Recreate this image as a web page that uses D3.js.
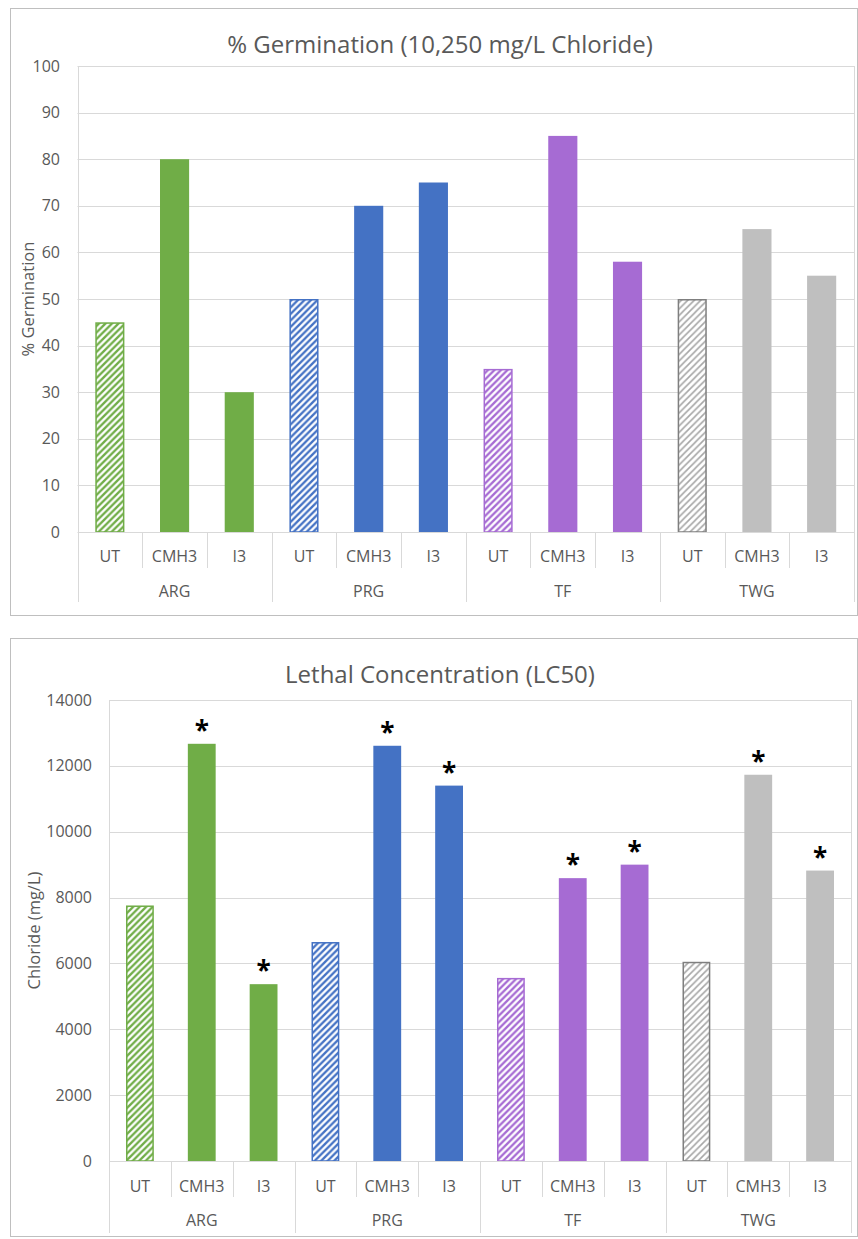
<!DOCTYPE html>
<html>
<head>
<meta charset="utf-8">
<script src="https://cdn.jsdelivr.net/npm/d3@7"></script>
<style>
  html, body { margin: 0; padding: 0; background: #fff; }
  svg { display: block; }
  text { font-family: "Open Sans", "Noto Sans", sans-serif; }
</style>
</head>
<body>
<svg id="chart" width="858" height="1239"></svg>
<script>
// ---------- data ----------
const groups = ["ARG", "PRG", "TF", "TWG"];
const treatments = ["UT", "CMH3", "I3"];
const groupColors = ["#70AD47", "#4472C4", "#A66BD3", "#BFBFBF"];

const germinationValues = [45, 80, 30, 50, 70, 75, 35, 85, 58, 50, 65, 55];
const germinationTicks = [0, 10, 20, 30, 40, 50, 60, 70, 80, 90, 100];

const lc50Values = [7760, 12670, 5370, 6650, 12610, 11400, 5560, 8590, 9000, 6050, 11730, 8820];
const lc50Significant = [false, true, true, false, true, true, false, true, true, false, true, true];
const lc50Ticks = [0, 2000, 4000, 6000, 8000, 10000, 12000, 14000];

// ---------- drawing ----------
const svg = d3.select("#chart");
const textColor = "#595959";
const gridColor = "#D9D9D9";

const defs = svg.append("defs");
groupColors.forEach((c, i) => {
  const isGray = i === 3;
  const s = 6.5;
  const p = defs.append("pattern")
    .attr("id", "hatch" + i)
    .attr("patternUnits", "userSpaceOnUse")
    .attr("width", s).attr("height", s);
  p.append("rect").attr("width", s).attr("height", s).attr("fill", "#fff");
  p.append("path")
    .attr("d", `M-1.5,1.5 L1.5,-1.5 M0,${s} L${s},0 M${s - 1.5},${s + 1.5} L${s + 1.5},${s - 1.5}`)
    .attr("stroke", isGray ? "#A6A6A6" : c)
    .attr("stroke-width", isGray ? 1.6 : 2.3);
});

function drawChart(cfg) {
  const g = svg.append("g");
  // outer frame
  g.append("rect")
    .attr("x", cfg.frame[0] + 0.5).attr("y", cfg.frame[1] + 0.5)
    .attr("width", cfg.frame[2] - cfg.frame[0]).attr("height", cfg.frame[3] - cfg.frame[1])
    .attr("fill", "#fff").attr("stroke", "#BFBFBF").attr("stroke-width", 1);

  // title
  g.append("text")
    .attr("x", cfg.titleX).attr("y", cfg.titleY)
    .attr("text-anchor", "middle").attr("dominant-baseline", "central")
    .attr("font-size", cfg.titleSize).attr("fill", textColor)
    .text(cfg.title);

  const n = groups.length * treatments.length;
  const idx = d3.range(n);
  const x = d3.scaleBand().domain(idx).range([cfg.left, cfg.right])
    .paddingInner(0.55).paddingOuter(0.275);
  const edge = d3.scaleLinear().domain([0, n]).range([cfg.left, cfg.right]);
  const y = d3.scaleLinear().domain([0, cfg.max]).range([cfg.bottom, cfg.top]);

  // gridlines
  g.append("g").selectAll("line").data(cfg.ticks.filter(t => t > 0)).join("line")
    .attr("x1", cfg.left).attr("x2", cfg.right)
    .attr("y1", d => Math.round(y(d)) + 0.5).attr("y2", d => Math.round(y(d)) + 0.5)
    .attr("stroke", gridColor).attr("stroke-width", 1);

  // plot-area right border
  g.append("line")
    .attr("x1", Math.round(cfg.right) + 0.5).attr("x2", Math.round(cfg.right) + 0.5)
    .attr("y1", cfg.top).attr("y2", cfg.bottom)
    .attr("stroke", gridColor);
  // left border of plot area (and continuing as axis group line)
  g.append("line")
    .attr("x1", Math.round(cfg.left) + 0.5).attr("x2", Math.round(cfg.left) + 0.5)
    .attr("y1", cfg.top).attr("y2", cfg.groupLineEnd)
    .attr("stroke", gridColor);

  // y axis labels
  const yAxis = d3.axisLeft(y).tickValues(cfg.ticks).tickSize(0).tickPadding(0)
    .tickFormat(d3.format("d"));
  const ya = g.append("g").attr("transform", `translate(${cfg.tickRight},0)`).call(yAxis);
  ya.select(".domain").remove();
  ya.selectAll("text").attr("font-size", 16).attr("fill", textColor)
    .attr("font-family", "'Open Sans', sans-serif");

  // y axis title
  g.append("text")
    .attr("transform", `translate(${cfg.yTitleX},${(cfg.top + cfg.bottom) / 2}) rotate(-90)`)
    .attr("text-anchor", "middle").attr("dominant-baseline", "central")
    .attr("font-size", 16.5).attr("fill", textColor)
    .text(cfg.yTitle);

  // bars
  const bars = idx.map(i => ({
    i, v: cfg.values[i],
    group: Math.floor(i / treatments.length),
    treat: i % treatments.length
  }));
  g.append("g").selectAll("rect").data(bars).join("rect")
    .attr("x", d => d.treat === 0 ? x(d.i) + 0.75 : x(d.i))
    .attr("width", d => d.treat === 0 ? x.bandwidth() - 1.5 : x.bandwidth())
    .attr("y", d => d.treat === 0 ? y(d.v) + 0.75 : y(d.v))
    .attr("height", d => d.treat === 0 ? y(0) - y(d.v) - 0.75 : y(0) - y(d.v))
    .attr("fill", d => d.treat === 0 ? `url(#hatch${d.group})` : groupColors[d.group])
    .attr("stroke", d => d.treat === 0 ? (d.group === 3 ? "#7F7F7F" : groupColors[d.group]) : "none")
    .attr("stroke-width", 1.5);

  // significance asterisks
  if (cfg.signif) {
    g.append("g").selectAll("text").data(bars.filter(d => cfg.signif[d.i])).join("text")
      .attr("x", d => x(d.i) + x.bandwidth() / 2)
      .attr("y", d => y(d.v) - 4)
      .attr("text-anchor", "middle")
      .attr("font-family", "'Liberation Sans', Arial, sans-serif")
      .attr("font-weight", "bold").attr("font-size", 26).attr("fill", "#000")
      .text("*");
  }

  // baseline
  g.append("line")
    .attr("x1", cfg.left).attr("x2", cfg.right)
    .attr("y1", Math.round(cfg.bottom) + 0.5).attr("y2", Math.round(cfg.bottom) + 0.5)
    .attr("stroke", gridColor);

  // category separators
  const seps = d3.range(1, n + 1);
  g.append("g").selectAll("line").data(seps).join("line")
    .attr("x1", d => Math.round(edge(d)) + 0.5).attr("x2", d => Math.round(edge(d)) + 0.5)
    .attr("y1", cfg.bottom)
    .attr("y2", d => d % treatments.length === 0 ? cfg.groupLineEnd : cfg.subLineEnd)
    .attr("stroke", gridColor);

  // treatment labels
  g.append("g").selectAll("text").data(bars).join("text")
    .attr("x", d => x(d.i) + x.bandwidth() / 2)
    .attr("y", cfg.subLabelY)
    .attr("text-anchor", "middle").attr("dominant-baseline", "central")
    .attr("font-size", 16).attr("fill", textColor)
    .text(d => treatments[d.treat]);

  // group labels
  g.append("g").selectAll("text").data(groups).join("text")
    .attr("x", (d, i) => (edge(i * 3) + edge(i * 3 + 3)) / 2)
    .attr("y", cfg.groupLabelY)
    .attr("text-anchor", "middle").attr("dominant-baseline", "central")
    .attr("font-size", 16).attr("fill", textColor)
    .text(d => d);
}

drawChart({
  frame: [10, 8, 857, 615],
  title: "% Germination (10,250 mg/L Chloride)",
  titleX: 440, titleY: 43, titleSize: 24,
  left: 77.5, right: 854, top: 66, bottom: 532,
  max: 100, ticks: germinationTicks, values: germinationValues,
  tickRight: 60, yTitle: "% Germination", yTitleX: 27,
  subLabelY: 556, groupLabelY: 591, subLineEnd: 568, groupLineEnd: 602
});

drawChart({
  frame: [10, 638, 857, 1236],
  title: "Lethal Concentration (LC50)",
  titleX: 440, titleY: 673, titleSize: 24,
  left: 109, right: 851, top: 700, bottom: 1161,
  max: 14000, ticks: lc50Ticks, values: lc50Values, signif: lc50Significant,
  tickRight: 92, yTitle: "Chloride (mg/L)", yTitleX: 33,
  subLabelY: 1186, groupLabelY: 1220, subLineEnd: 1197, groupLineEnd: 1233
});
</script>
</body>
</html>
